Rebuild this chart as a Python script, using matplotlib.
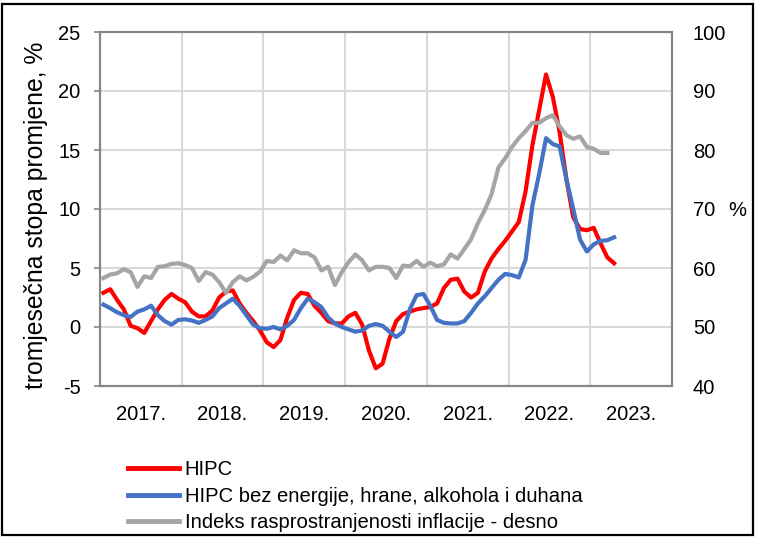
import matplotlib
matplotlib.use("Agg")
import matplotlib.pyplot as plt
from matplotlib.patches import Rectangle
from matplotlib.lines import Line2D
import numpy as np

plt.rcParams['font.family'] = ['Liberation Sans', 'DejaVu Sans']
plt.rcParams['axes.unicode_minus'] = False

years = ["2017.", "2018.", "2019.", "2020.", "2021.", "2022.", "2023."]

hipc = [2.9, 3.2, 2.3, 1.5, 0.1, -0.1, -0.5, 0.5, 1.5, 2.3, 2.8, 2.4,
        2.1, 1.3, 0.9, 0.9, 1.4, 2.5, 3.0, 3.1, 2.0, 1.2, 0.5, -0.3,
        -1.3, -1.7, -1.1, 0.8, 2.3, 2.9, 2.8, 1.8, 1.2, 0.5, 0.3, 0.3,
        0.9, 1.2, 0.2, -2.0, -3.5, -3.1, -1.0, 0.5, 1.1, 1.3, 1.5, 1.6,
        1.7, 2.0, 3.3, 4.0, 4.1, 3.0, 2.5, 2.9, 4.7, 5.8, 6.6, 7.3,
        8.1, 8.9, 11.5, 15.4, 18.4, 21.4, 19.5, 16.5, 12.5, 9.3, 8.3, 8.2,
        8.4, 7.1, 5.9, 5.4]

core = [1.9, 1.6, 1.25, 1.0, 0.85, 1.3, 1.5, 1.8, 1.0, 0.5, 0.2, 0.6,
        0.65, 0.55, 0.35, 0.6, 0.9, 1.6, 2.0, 2.4, 1.8, 1.0, 0.2, -0.1,
        -0.15, 0.0, -0.2, 0.1, 0.6, 1.6, 2.4, 2.1, 1.7, 0.8, 0.3, 0.0,
        -0.2, -0.4, -0.3, 0.1, 0.25, 0.1, -0.4, -0.85, -0.4, 1.5, 2.7, 2.8,
        1.8, 0.6, 0.35, 0.3, 0.3, 0.5, 1.2, 2.0, 2.6, 3.3, 4.0, 4.5,
        4.4, 4.2, 5.7, 10.3, 13.0, 16.0, 15.5, 15.3, 12.5, 10.0, 7.4, 6.4,
        7.0, 7.3, 7.35, 7.6]

diffusion = [58.3, 58.9, 59.1, 59.8, 59.3, 56.8, 58.6, 58.3, 60.2, 60.3, 60.7, 60.8,
             60.5, 60.0, 57.8, 59.3, 58.9, 57.6, 55.8, 57.6, 58.6, 57.9, 58.5, 59.4,
             61.2, 61.0, 62.1, 61.3, 63.0, 62.5, 62.5, 61.8, 59.6, 60.2, 57.1, 59.3,
             61.0, 62.3, 61.3, 59.6, 60.2, 60.2, 60.0, 58.3, 60.4, 60.3, 61.2, 60.2,
             60.9, 60.3, 60.6, 62.3, 61.6, 63.2, 64.9, 67.6, 69.8, 72.5, 77.0, 78.6,
             80.5, 82.0, 83.2, 84.6, 84.6, 85.4, 85.9, 84.0, 82.5, 81.9, 82.3, 80.5,
             80.2, 79.5, 79.5]

labels = ["HIPC",
          "HIPC bez energije, hrane, alkohola i duhana",
          "Indeks rasprostranjenosti inflacije - desno"]

RED = "#FF0000"
BLUE = "#4472C4"
GRAY = "#A5A5A5"
SPINE = "#868686"
GRID = "#D9D9D9"
FS = 14.5

W, H = 758, 539
fig = plt.figure(figsize=(W / 100, H / 100), dpi=100)
ax = fig.add_axes([100 / W, 1 - 386 / H, 572 / W, 354 / H])
ax2 = ax.twinx()

nmonths = 12 * len(years)
x1 = np.arange(len(hipc)) + 0.5
x2 = np.arange(len(diffusion)) + 0.5

ax.plot(x1, hipc, color=RED, lw=3, solid_joinstyle='round', zorder=3)
ax.plot(x1, core, color=BLUE, lw=3, solid_joinstyle='round', zorder=4)
ax2.plot(x2, diffusion, color=GRAY, lw=3, solid_joinstyle='round', zorder=3)

ax.set_xlim(0, nmonths)
ax.set_ylim(-5, 25)
ax.set_yticks(np.arange(-5, 26, 5))
ax.set_yticklabels([str(v) for v in range(-5, 26, 5)])
ax2.set_ylim(40, 100)
ax2.set_yticks(np.arange(40, 101, 10))

ax.set_xticks(np.arange(12, nmonths, 12), minor=True)
ax.set_xticks(np.arange(6, nmonths, 12))
ax.set_xticklabels(years)
ax.grid(True, which='minor', axis='x', color=GRID, lw=1.5)
ax.grid(True, which='major', axis='y', color=GRID, lw=1.5)
ax.set_axisbelow(True)

ax.tick_params(axis='x', which='both', length=0, labelsize=FS, pad=14)
ax.tick_params(axis='y', length=4, width=1.2, color=SPINE, labelsize=FS, pad=10)
ax2.tick_params(axis='y', length=0, labelsize=FS, pad=15)

for a in (ax, ax2):
    for s in a.spines.values():
        s.set_color(SPINE)
        s.set_linewidth(1.5)

fig.text(36 / W, 1 - 215 / H, "tromjesečna stopa promjene, %", rotation=90,
         ha='center', va='center', fontsize=17.8)
fig.text(737 / W, 1 - 210 / H, "%", ha='center', va='center', fontsize=FS)

handles = [Line2D([], [], color=c, lw=3.5) for c in (RED, BLUE, GRAY)]
fig.legend(handles, labels, loc='upper left', bbox_to_anchor=(128 / W, 1 - 460 / H),
           frameon=False, fontsize=14.6, handlelength=2.5, handletextpad=0.3,
           labelspacing=0.38, borderpad=0, borderaxespad=0)

fig.patches.append(Rectangle((1.5 / W, 1 - 535 / H), 751 / W, 531 / H,
                             transform=fig.transFigure, fill=False,
                             edgecolor='black', lw=1.6))

fig.savefig("out.png", dpi=100)
